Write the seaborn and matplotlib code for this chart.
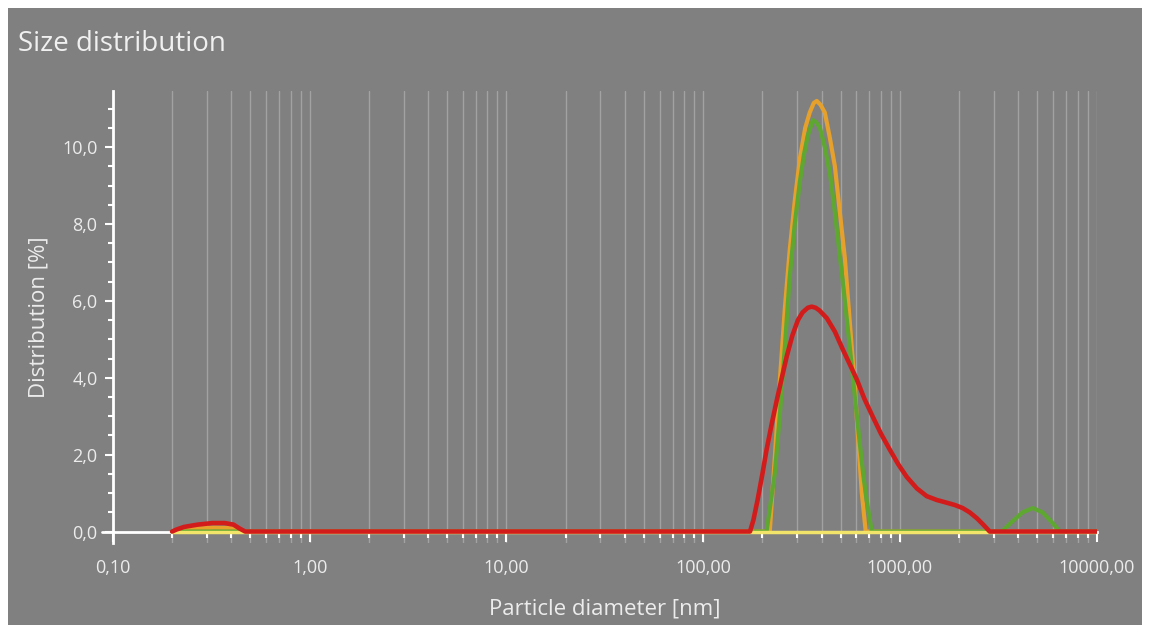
import matplotlib
matplotlib.use("Agg")
import matplotlib.pyplot as plt
import matplotlib.ticker as mticker
from matplotlib.patches import Rectangle
import seaborn as sns

# readings from the reference (diameter in nm, distribution in %)
diam_orange = [0.20, 0.22, 0.27, 0.33, 0.39, 0.44, 0.47, 218, 231, 245, 260, 275, 292, 310, 330,
               348, 365, 378, 395, 415, 440, 467, 495, 525, 557, 589, 615, 640, 670, 10000]
dist_orange = [0, 0.04, 0.08, 0.10, 0.09, 0.04, 0, 0, 1.9, 3.9, 5.8, 7.3, 8.6, 9.7, 10.5,
               10.9, 11.15, 11.2, 11.1, 10.9, 10.25, 9.5, 8.3, 7.1, 5.4, 3.8, 2.3, 1.0, 0, 0]

diam_green = [0.20, 210, 231, 245, 260, 275, 292, 310, 325, 340, 361, 375, 392, 415, 441, 467,
              494, 525, 556, 590, 625, 650, 678, 719, 3290, 3700, 4200, 4730, 5300, 5900, 6490, 10000]
dist_green = [0, 0, 1.5, 3.0, 4.8, 6.6, 8.0, 9.1, 9.8, 10.3, 10.7, 10.65, 10.5, 10.0, 9.3, 8.3,
              7.2, 6.0, 4.8, 3.5, 2.3, 1.5, 0.8, 0, 0, 0.25, 0.5, 0.61, 0.5, 0.25, 0, 0]

diam_yellow = [0.20, 1, 10, 100, 1000, 10000]
dist_yellow = [0, 0, 0, 0, 0, 0]

diam_red = [0.20, 0.21, 0.23, 0.27, 0.32, 0.37, 0.41, 0.44, 0.47, 173, 180, 189, 200, 210, 223,
            237, 251, 266, 284, 303, 320, 340, 356, 373, 390, 425, 467, 512, 556, 603, 660, 727,
            800, 888, 980, 1083, 1220, 1368, 1540, 1728, 1900, 2084, 2260, 2455, 2650, 2859, 10000]
dist_red = [0, 0.05, 0.12, 0.18, 0.22, 0.22, 0.18, 0.08, 0, 0, 0.3, 0.82, 1.5, 2.13, 2.8,
            3.43, 4.0, 4.56, 5.1, 5.5, 5.7, 5.82, 5.85, 5.82, 5.75, 5.55, 5.2, 4.74, 4.35, 3.96,
            3.45, 2.99, 2.55, 2.13, 1.75, 1.42, 1.12, 0.92, 0.82, 0.75, 0.69, 0.61, 0.50, 0.35,
            0.18, 0, 0]

x_major = [0.1, 1, 10, 100, 1000, 10000]
y_major = [0, 2, 4, 6, 8, 10]

BG = "#808080"
TXT = "#ececec"

sns.set_style("ticks")
plt.rcParams["font.family"] = ["Open Sans", "DejaVu Sans"]

fig = plt.figure(figsize=(11.52, 6.3), dpi=100)
fig.patch.set_facecolor("white")
fig.patches.append(Rectangle((0.007, 0.008), 0.984, 0.979, transform=fig.transFigure,
                             facecolor=BG, edgecolor="none", zorder=-10))

ax = fig.add_axes([0.098, 0.138, 0.854, 0.717])
ax.set_facecolor(BG)

sns.lineplot(x=diam_orange, y=dist_orange, ax=ax, color="#e6a02c", linewidth=3, zorder=3)
sns.lineplot(x=diam_green, y=dist_green, ax=ax, color="#5ea832", linewidth=3, zorder=4)
sns.lineplot(x=diam_yellow, y=dist_yellow, ax=ax, color="#f2e46a", linewidth=2.5, zorder=5)
sns.lineplot(x=diam_red, y=dist_red, ax=ax, color="#d21c1c", linewidth=3.3, zorder=6)

ax.set_xscale("log")
ax.set_xlim(0.1, 10000)
ax.set_ylim(-0.3, 11.45)

ax.xaxis.set_major_locator(mticker.FixedLocator(x_major))
ax.xaxis.set_minor_locator(mticker.LogLocator(base=10, subs=range(2, 10), numticks=20))
ax.xaxis.set_major_formatter(mticker.FuncFormatter(lambda v, p: f"{v:.2f}".replace(".", ",")))
ax.xaxis.set_minor_formatter(mticker.NullFormatter())
ax.yaxis.set_major_locator(mticker.FixedLocator(y_major))
ax.yaxis.set_minor_locator(mticker.MultipleLocator(0.5))
ax.yaxis.set_major_formatter(mticker.FuncFormatter(lambda v, p: f"{v:.1f}".replace(".", ",")))

ax.grid(True, which="both", axis="x", color="#a2a2a2", linewidth=1, zorder=0)
ax.set_axisbelow(True)

for s in ["top", "right"]:
    ax.spines[s].set_visible(False)
ax.spines["bottom"].set_position(("data", 0))
ax.spines["bottom"].set_color("white")
ax.spines["bottom"].set_linewidth(2)
ax.spines["left"].set_color("white")
ax.spines["left"].set_linewidth(2)
ax.axhline(0, xmin=-0.011, xmax=0, color="white", linewidth=2, clip_on=False)

ax.tick_params(axis="x", which="major", length=7.5, width=1.5, color="white",
               labelcolor=TXT, labelsize=13, pad=12)
ax.tick_params(axis="x", which="minor", length=4, width=1.5, color="white")
ax.tick_params(axis="y", which="major", length=6, width=1.5, color="white",
               labelcolor=TXT, labelsize=13, pad=5)
ax.tick_params(axis="y", which="minor", length=3.5, width=1.5, color="white")

ax.set_xlabel("Particle diameter [nm]", color=TXT, fontsize=16)
ax.set_ylabel("Distribution [%]", color=TXT, fontsize=16)
ax.xaxis.set_label_coords(0.5, -0.122)
ax.yaxis.set_label_coords(-0.064, 0.5)

fig.text(18 / 1152, 1 - 44 / 630, "Size distribution", fontsize=20, color="#f0f0f0", va="center")

fig.savefig("out.png", dpi=100, facecolor=fig.get_facecolor())
